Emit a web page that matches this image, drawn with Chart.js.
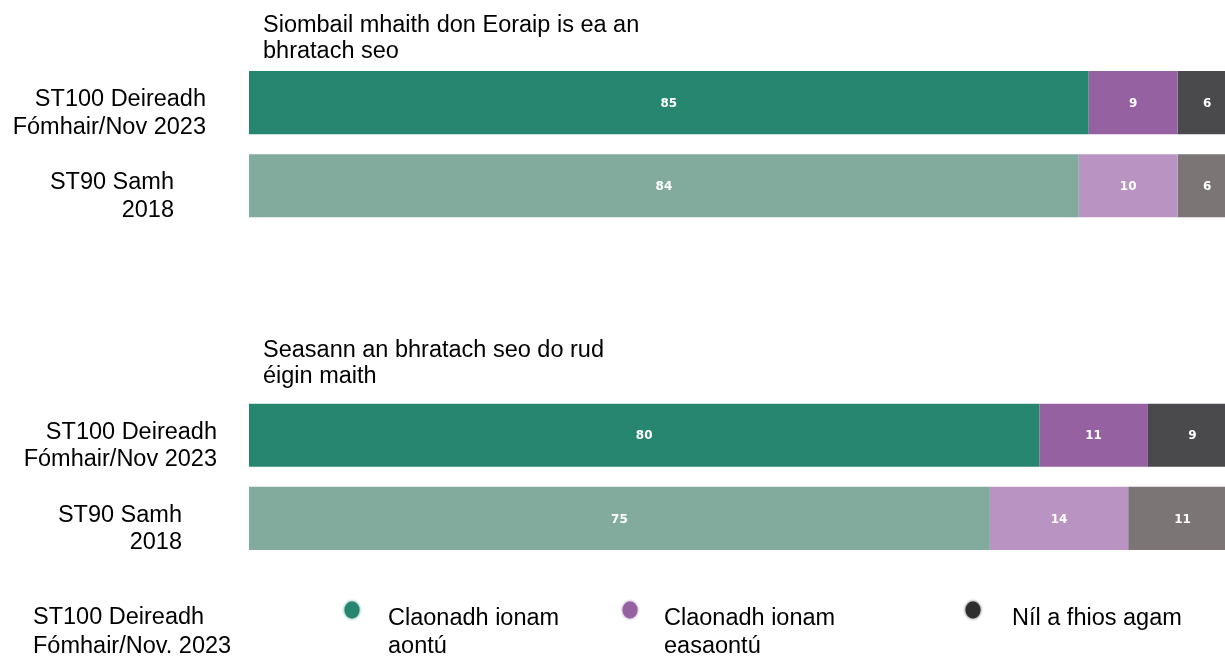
<!DOCTYPE html>
<html>
<head>
<meta charset="utf-8">
<script src="https://cdn.jsdelivr.net/npm/chart.js@4/dist/chart.umd.min.js"></script>
<style>
html,body{margin:0;padding:0;background:#fff;overflow:hidden}
#wrap{width:1225px;height:657px;position:relative}
</style>
</head>
<body>
<div id="wrap"><canvas id="c" width="1225" height="657"></canvas></div>
<script>
// ---- data ----
const categories = [
  ['ST100 Deireadh', 'Fómhair/Nov 2023'],
  ['ST90 Samh', '2018'],
  '',
  '',
  ['ST100 Deireadh', 'Fómhair/Nov 2023'],
  ['ST90 Samh', '2018']
];
const agree    = [85, 84, null, null, 80, 75];
const disagree = [9, 10, null, null, 11, 14];
const dontKnow = [6, 6, null, null, 9, 11];
const seriesNames = [['Claonadh ionam', 'aontú'], ['Claonadh ionam', 'easaontú'], ['Níl a fhios agam']];
const groupTitles = [
  ['Siombail mhaith don Eoraip is ea an', 'bhratach seo'],
  ['Seasann an bhratach seo do rud', 'éigin maith']
];
const legendNote = ['ST100 Deireadh', 'Fómhair/Nov. 2023'];

// ---- styles ----
const darkColors  = ['#27866F', '#9561A0', '#4A494B'];
const lightColors = ['#82AA9D', '#B994C2', '#7B7576'];
const legendColors = ['#27866F', '#9561A0', '#2E2E2E'];
const FONT = '"Liberation Sans", Arial, sans-serif';
const isLatest = i => Array.isArray(categories[i]) && categories[i][0].startsWith('ST100');

function colorFor(s) {
  return ctx => isLatest(ctx.dataIndex) ? darkColors[s] : lightColors[s];
}

const barLabels = {
  id: 'barLabels',
  afterDatasetsDraw(chart) {
    const ctx = chart.ctx;
    ctx.save();
    ctx.fillStyle = '#fff';
    ctx.font = 'bold 12px "DejaVu Sans", Verdana, sans-serif';
    ctx.textAlign = 'center';
    ctx.textBaseline = 'middle';
    chart.data.datasets.forEach((ds, di) => {
      chart.getDatasetMeta(di).data.forEach((el, i) => {
        const v = ds.data[i];
        if (v == null) return;
        ctx.fillText(String(v), (el.x + el.base) / 2, el.y + 1);
      });
    });
    ctx.restore();
  }
};

const sideText = {
  id: 'sideText',
  afterDraw(chart) {
    const ctx = chart.ctx;
    const y = chart.scales.y;
    ctx.save();
    ctx.fillStyle = '#000';
    ctx.font = '23.5px ' + FONT;
    ctx.textBaseline = 'middle';
    // category labels
    const rightEdges = {0: 206, 1: 174, 4: 217, 5: 182};
    categories.forEach((lab, i) => {
      if (!Array.isArray(lab)) return;
      const cy = y.getPixelForValue(i);
      ctx.textAlign = 'right';
      lab.forEach((line, k) => ctx.fillText(line, rightEdges[i], cy - 3 + k * 27.5));
    });
    // group titles
    const titleAnchors = [0, 4];
    const titleOffsets = [-77, -85];
    ctx.textAlign = 'left';
    groupTitles.forEach((t, g) => {
      const cy = y.getPixelForValue(titleAnchors[g]) + titleOffsets[g];
      t.forEach((line, k) => ctx.fillText(line, 263, cy + k * 26));
    });
    // legend
    legendNote.forEach((line, k) => ctx.fillText(line, 33, 618 + k * 28.5));
    const lx = [352, 630, 973];
    const tx = [388, 664, 1012];
    seriesNames.forEach((name, s) => {
      ctx.save();
      ctx.fillStyle = legendColors[s];
      ctx.shadowColor = legendColors[s];
      ctx.shadowBlur = 3;
      ctx.beginPath();
      ctx.ellipse(lx[s], 610, 7.5, 8.5, 0, 0, Math.PI * 2);
      ctx.fill();
      ctx.restore();
      ctx.fillStyle = '#000';
      name.forEach((line, k) => ctx.fillText(line, tx[s], 619 + k * 28));
    });
    ctx.restore();
  }
};

new Chart(document.getElementById('c'), {
  type: 'bar',
  data: {
    labels: categories,
    datasets: [
      { label: seriesNames[0].join(' '), data: agree, backgroundColor: colorFor(0) },
      { label: seriesNames[1].join(' '), data: disagree, backgroundColor: colorFor(1) },
      { label: seriesNames[2].join(' '), data: dontKnow, backgroundColor: colorFor(2) }
    ]
  },
  options: {
    indexAxis: 'y',
    responsive: false,
    animation: false,
    layout: { padding: { top: 61, bottom: 97, left: 249, right: 0 } },
    datasets: { bar: { barPercentage: 0.76, categoryPercentage: 1, borderWidth: 0 } },
    scales: {
      x: { stacked: true, min: 0, max: 98.8, display: false },
      y: { stacked: true, display: false }
    },
    plugins: { legend: { display: false }, tooltip: { enabled: false }, title: { display: false } }
  },
  plugins: [barLabels, sideText]
});
</script>
</body>
</html>
